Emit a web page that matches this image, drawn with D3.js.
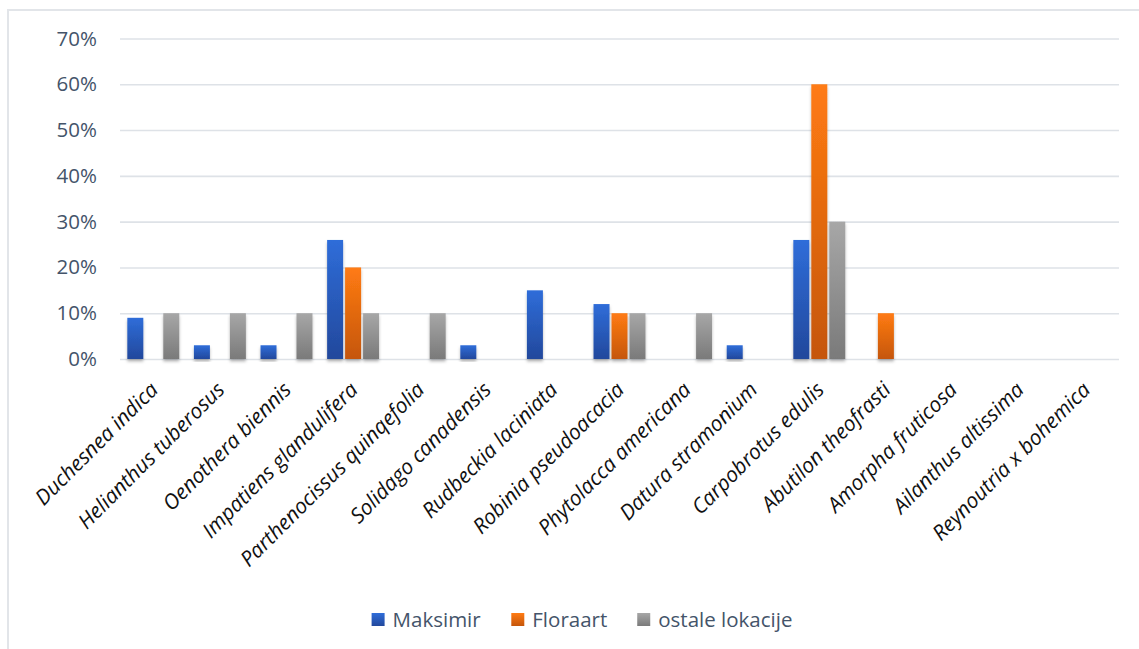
<!DOCTYPE html>
<html>
<head>
<meta charset="utf-8">
<script src="https://cdn.jsdelivr.net/npm/d3@7"></script>
<style>
  html, body { margin: 0; padding: 0; background: #ffffff; }
  svg { display: block; }
</style>
</head>
<body>
<svg id="chart" width="1139" height="649"></svg>
<script>
// Invasive plant species and their share at each location
const categories = [
  "Duchesnea indica", "Helianthus tuberosus", "Oenothera biennis",
  "Impatiens glandulifera", "Parthenocissus quinqefolia", "Solidago canadensis",
  "Rudbeckia laciniata", "Robinia pseudoacacia", "Phytolacca americana",
  "Datura stramonium", "Carpobrotus edulis", "Abutilon theofrasti",
  "Amorpha fruticosa", "Ailanthus altissima", "Reynoutria x bohemica"
];
const seriesNames = ["Maksimir", "Floraart", "ostale lokacije"];
const maksimir = [0.09, 0.03, 0.03, 0.26, 0, 0.03, 0.15, 0.12, 0, 0.03, 0.26, 0, 0, 0, 0];
const floraart = [0, 0, 0, 0.20, 0, 0, 0, 0.10, 0, 0, 0.60, 0.10, 0, 0, 0];
const ostale   = [0.10, 0.10, 0.10, 0.10, 0.10, 0, 0, 0.10, 0.10, 0, 0.30, 0, 0, 0, 0];
const yTicks = [0, 0.1, 0.2, 0.3, 0.4, 0.5, 0.6, 0.7];

const seriesValues = [maksimir, floraart, ostale];
const gradients = [
  { id: "gBlue",   top: "#2F6DD9", bottom: "#22489C" },
  { id: "gOrange", top: "#FF7B13", bottom: "#C5560B" },
  { id: "gGray",   top: "#A7A7A7", bottom: "#7A7A7A" }
];

const svg = d3.select("#chart");
const defs = svg.append("defs");

gradients.forEach(g => {
  const lg = defs.append("linearGradient")
    .attr("id", g.id).attr("x1", 0).attr("y1", 0).attr("x2", 0).attr("y2", 1);
  lg.append("stop").attr("offset", "0%").attr("stop-color", g.top);
  lg.append("stop").attr("offset", "100%").attr("stop-color", g.bottom);
});

const shadow = defs.append("filter").attr("id", "barShadow")
  .attr("x", "-30%").attr("y", "-10%").attr("width", "160%").attr("height", "125%");
shadow.append("feDropShadow")
  .attr("dx", 0).attr("dy", 2.5).attr("stdDeviation", 1.8)
  .attr("flood-color", "#000").attr("flood-opacity", 0.28);

// Chart frame (left and top edges visible)
svg.append("path")
  .attr("d", "M8,649 L8,10 L1139,10")
  .attr("fill", "none").attr("stroke", "#E2E5E9").attr("stroke-width", 2);

const plotLeft = 120, plotRight = 1119, plotTop = 38.5, plotBottom = 359;

const x = d3.scaleBand().domain(categories).range([plotLeft, plotRight]).paddingInner(0).paddingOuter(0);
const groupW = x.bandwidth() * 0.78;
const x1 = d3.scaleBand().domain(seriesNames).range([-groupW / 2, groupW / 2])
  .paddingInner(1 / 9).paddingOuter(0);
const y = d3.scaleLinear().domain([0, 0.7]).range([plotBottom, plotTop]);

// Gridlines and value axis labels
const yAxis = d3.axisLeft(y).tickValues(yTicks).tickFormat(d3.format(".0%"))
  .tickSize(-(plotRight - plotLeft)).tickPadding(23);
const gy = svg.append("g").attr("transform", `translate(${plotLeft},0)`).call(yAxis);
gy.select(".domain").remove();
gy.selectAll(".tick line").attr("stroke", "#DEE2E7").attr("stroke-width", 1.6);
gy.selectAll(".tick text")
  .attr("fill", "#44546A")
  .style("font-family", "'Open Sans', sans-serif")
  .style("font-size", "20.5px");

// Bars (zero values are not drawn)
const flat = [];
categories.forEach((c, i) => {
  seriesNames.forEach((s, j) => {
    const v = seriesValues[j][i];
    if (v > 0) flat.push({ cat: c, series: s, j, v });
  });
});

svg.append("g").selectAll("rect").data(flat).join("rect")
  .attr("x", d => x(d.cat) + x.bandwidth() / 2 + x1(d.series))
  .attr("width", x1.bandwidth())
  .attr("y", d => y(d.v))
  .attr("height", d => y(0) - y(d.v))
  .attr("fill", d => `url(#${gradients[d.j].id})`)
  .attr("filter", "url(#barShadow)");

// Category labels, slanted
svg.append("g").selectAll("text").data(categories).join("text")
  .attr("transform", d => `translate(${x(d) + x.bandwidth() / 2 + 6},${plotBottom + 32}) rotate(-45)`)
  .attr("text-anchor", "end")
  .attr("fill", "#111")
  .style("font-family", "'Open Sans', sans-serif")
  .style("font-style", "italic")
  .style("font-size", "21px")
  .text(d => d);

// Legend
const legend = svg.append("g");
const items = legend.selectAll("g").data(seriesNames).join("g");
items.append("rect").attr("width", 13).attr("height", 13)
  .attr("fill", (d, j) => `url(#${gradients[j].id})`);
items.append("text").attr("x", 21).attr("y", 13.5)
  .attr("fill", "#44546A")
  .style("font-family", "'Open Sans', sans-serif")
  .style("font-size", "20.5px")
  .text(d => d);
let cx = 0;
const offsets = [];
items.each(function () {
  offsets.push(cx);
  cx += this.getBBox().width + 30;
});
const totalW = cx - 30;
const startX = 582 - totalW / 2;
items.attr("transform", (d, j) => `translate(${startX + offsets[j]},613)`);
</script>
</body>
</html>
